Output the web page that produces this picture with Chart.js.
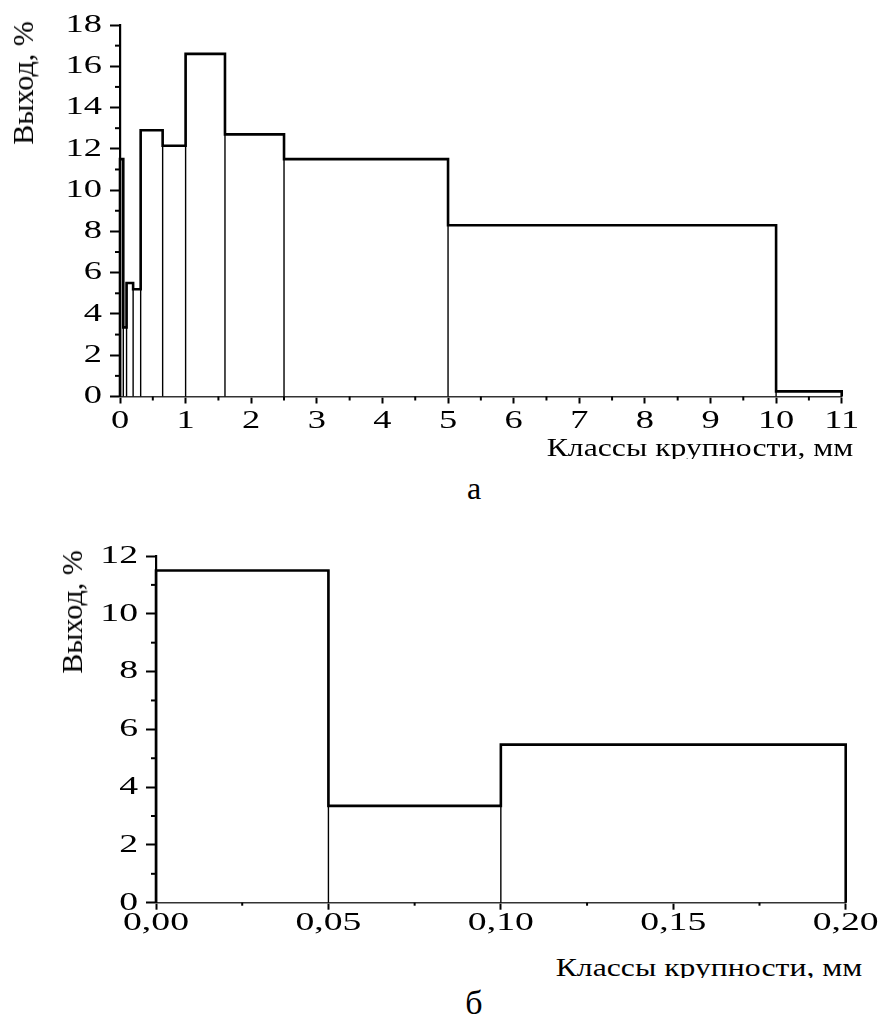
<!DOCTYPE html>
<html><head><meta charset="utf-8">
<script src="https://cdn.jsdelivr.net/npm/chart.js@4.4.1/dist/chart.umd.min.js"></script>
<style>
html,body{margin:0;padding:0;background:#fff;}
#page{position:relative;width:882px;height:1015px;overflow:hidden;font-family:"Liberation Serif","Times New Roman",serif;color:#000;}
canvas{position:absolute;left:0;}
.t{position:absolute;white-space:nowrap;line-height:1;}
.clip{overflow:hidden;}
</style></head><body>
<div id="page">
<canvas id="c1" width="882" height="440" style="top:0px"></canvas>
<canvas id="c2" width="882" height="440" style="top:510px"></canvas>
<div class="t" style="font-size:30px;left:23px;top:83px;transform:translate(-50%,-50%) rotate(-90deg);">Выход, %</div>
<div class="t" style="font-size:30px;left:72px;top:612px;transform:translate(-50%,-50%) rotate(-90deg);">Выход, %</div>
<div class="t clip" style="font-size:26px;right:29px;top:435px;height:23.5px;transform:scaleX(1.22);transform-origin:100% 50%;">Классы крупности, мм</div>
<div class="t clip" style="font-size:26px;right:20px;top:955px;height:23px;transform:scaleX(1.22);transform-origin:100% 50%;">Классы крупности, мм</div>
<div class="t" style="font-size:32px;left:474px;top:472px;transform:translateX(-50%);">а</div>
<div class="t" style="font-size:34px;left:474px;top:986px;transform:translateX(-50%);">б</div>
</div>
<script>
// ---- data: chart а ----
const edgesA  = [0, 0.05, 0.1, 0.2, 0.315, 0.65, 1, 1.6, 2.5, 5, 10, 11];
const yieldsA = [11.5, 3.35, 5.5, 5.2, 12.9, 12.15, 16.6, 12.7, 11.5, 8.3, 0.25];
const xTicksA  = [0,1,2,3,4,5,6,7,8,9,10,11];
const xLabelsA = ['0','1','2','3','4','5','6','7','8','9','10','11'];
const yTicksA  = [0,2,4,6,8,10,12,14,16,18];
const yLabelsA = ['0','2','4','6','8','10','12','14','16','18'];
const xMinorA  = [0.5,1.5,2.5,3.5,4.5,5.5,6.5,7.5,8.5,9.5,10.5];
const yMinorA  = [1,3,5,7,9,11,13,15,17];
// ---- data: chart б ----
const edgesB  = [0, 0.05, 0.1, 0.2];
const yieldsB = [11.5, 3.35, 5.47];
const xTicksB  = [0,0.05,0.1,0.15,0.2];
const xLabelsB = ['0,00','0,05','0,10','0,15','0,20'];
const yTicksB  = [0,2,4,6,8,10,12];
const yLabelsB = ['0','2','4','6','8','10','12'];
const xMinorB  = [0.025,0.075,0.125,0.175];
const yMinorB  = [1,3,5,7,9,11];

const FONT = '"Liberation Serif","Times New Roman",serif';

function outline(edges, vals){
  const pts=[{x:edges[0],y:0}];
  for(let i=0;i<vals.length;i++){ pts.push({x:edges[i],y:vals[i]}); pts.push({x:edges[i+1],y:vals[i]}); }
  pts.push({x:edges[edges.length-1],y:0});
  return pts;
}
function verticals(edges, vals){
  const pts=[];
  for(let i=0;i<edges.length;i++){
    const h=Math.max(i>0?vals[i-1]:0, i<vals.length?vals[i]:0);
    pts.push({x:edges[i],y:0},{x:edges[i],y:h},{x:edges[i],y:null});
  }
  return pts;
}

const stretchPlugin={
  id:'stretch',
  beforeDraw(chart,args,opts){
    const ctx=chart.ctx, orig=CanvasRenderingContext2D.prototype.fillText, sx=opts.sx;
    ctx.fillText=function(t,x,y,mw){
      this.save(); this.translate(x,y); this.scale(sx,1);
      if(mw===undefined) orig.call(this,t,0,0); else orig.call(this,t,0,0,mw/sx);
      this.restore();
    };
  },
  beforeDatasetsDraw(chart){ delete chart.ctx.fillText; }
};
const minorPlugin={
  id:'minor',
  afterDraw(chart,args,opts){
    const ctx=chart.ctx, xs=chart.scales.x, ys=chart.scales.y, a=chart.chartArea;
    ctx.save(); ctx.strokeStyle='#000'; ctx.lineWidth=2;
    opts.x.forEach(v=>{const p=xs.getPixelForValue(v); ctx.beginPath(); ctx.moveTo(p,a.bottom); ctx.lineTo(p,a.bottom+opts.xLen); ctx.stroke();});
    opts.y.forEach(v=>{const p=ys.getPixelForValue(v); ctx.beginPath(); ctx.moveTo(a.left,p); ctx.lineTo(a.left-opts.yLen,p); ctx.stroke();});
    ctx.restore();
  }
};

function make(id, edges, vals, xT, xL, yT, yL, xMin, yMin, geo){
  new Chart(document.getElementById(id),{
    type:'scatter',
    data:{datasets:[
      {data:outline(edges,vals),showLine:true,borderColor:'#000',borderWidth:2.6,pointRadius:0,borderJoinStyle:'miter',tension:0,clip:4},
      {data:verticals(edges,vals),showLine:true,borderColor:'#000',borderWidth:1.4,pointRadius:0,spanGaps:false,tension:0,clip:4}
    ]},
    options:{
      responsive:false, animation:false, devicePixelRatio:1,
      layout:{padding:{left:0,right:geo.right,top:geo.top,bottom:0}},
      plugins:{legend:{display:false},tooltip:{enabled:false},
        stretch:{sx:geo.sx}, minor:{x:xMin,y:yMin,xLen:geo.xMinLen,yLen:5}},
      scales:{
        x:{type:'linear',min:xT[0],max:xT[xT.length-1],
          afterBuildTicks:s=>{s.ticks=xT.map(v=>({value:v}));},
          afterFit:s=>{s.height=geo.xh;},
          ticks:{callback:(v,i)=>xL[i],autoSkip:false,maxRotation:0,color:'#000',padding:geo.xpad,font:{family:FONT,size:26}},
          grid:{display:true,drawOnChartArea:false,drawTicks:true,tickLength:7,tickWidth:2,tickColor:'#000'},
          border:{display:true,color:'#333',width:1.6}},
        y:{type:'linear',min:yT[0],max:yT[yT.length-1],
          afterBuildTicks:s=>{s.ticks=yT.map(v=>({value:v}));},
          afterFit:s=>{s.width=geo.yw;},
          ticks:{callback:(v,i)=>yL[i],autoSkip:false,color:'#000',padding:8,font:{family:FONT,size:26}},
          grid:{display:true,drawOnChartArea:false,drawTicks:true,tickLength:10,tickWidth:2,tickColor:'#000'},
          border:{display:true,color:'#000',width:2.2}}
      }
    },
    plugins:[stretchPlugin,minorPlugin]
  });
}
make('c1',edgesA,yieldsA,xTicksA,xLabelsA,yTicksA,yLabelsA,xMinorA,yMinorA,
  {right:40.3,top:25,xh:43.5,yw:120,xpad:2.4,sx:1.4,xMinLen:4});
make('c2',edgesB,yieldsB,xTicksB,xLabelsB,yTicksB,yLabelsB,xMinorB,yMinorB,
  {right:36.3,top:46,xh:47.3,yw:156,xpad:-2.5,sx:1.45,xMinLen:3});
</script>
</body></html>
